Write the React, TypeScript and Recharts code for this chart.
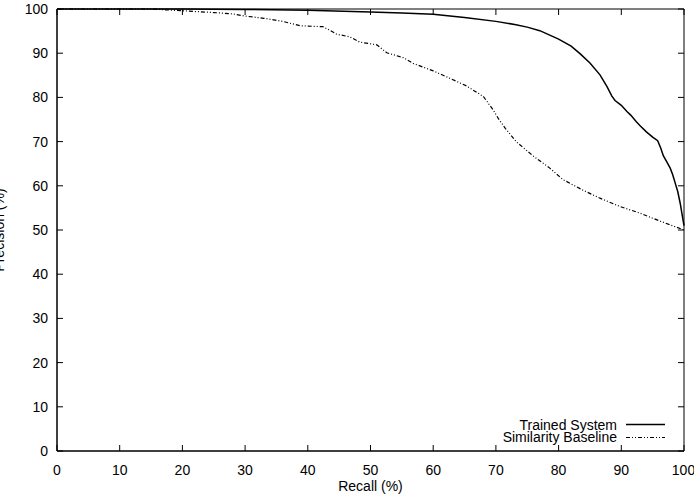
import React from 'react';
import { LineChart, Line, XAxis, YAxis, ReferenceArea, ReferenceLine } from 'recharts';

// Trained System curve (recall %, precision %)
const trainedRecall = [0, 10, 20, 30, 40, 50, 55, 60, 65, 70, 73, 75, 77, 80, 82, 83.5, 85, 86.6, 87.7, 88.5, 89, 90, 90.9, 91.5, 92.4, 93, 94, 95, 95.8, 96.3, 96.7, 97.3, 97.8, 98.2, 98.6, 99, 99.4, 99.7, 100];
const trainedPrecision = [100, 100, 100, 99.9, 99.7, 99.3, 99.1, 98.8, 98.1, 97.2, 96.5, 95.9, 95.1, 93.2, 91.6, 89.8, 87.8, 85.1, 82.5, 80.3, 79.3, 78.2, 76.8, 76, 74.5, 73.6, 72.2, 71, 70.2, 68.5, 66.8, 65.3, 64, 62.5, 60.6, 58.7, 56, 53.5, 51];

// Similarity Baseline curve
const baselineRecall = [0, 10, 15, 20, 25, 28, 30, 33, 36, 38.8, 42.4, 43.5, 44.6, 46.7, 48.3, 51, 52.6, 55.2, 56.8, 60, 62.7, 65.3, 68, 69.5, 70.4, 71.5, 73.3, 75.9, 78.6, 80.7, 83.9, 86.6, 89.8, 93, 96.2, 100];
const baselinePrecision = [100, 100, 100, 99.6, 99.2, 98.9, 98.4, 97.9, 97.2, 96.2, 96, 95.2, 94.3, 93.7, 92.5, 91.9, 90.1, 89, 87.7, 86, 84.3, 82.6, 80.2, 77.3, 75.2, 73, 69.9, 66.8, 64, 61.4, 59, 57.2, 55.3, 53.8, 52, 50];

const xTicks = [0, 10, 20, 30, 40, 50, 60, 70, 80, 90, 100];
const yTicks = [0, 10, 20, 30, 40, 50, 60, 70, 80, 90, 100];

const trained = trainedRecall.map((r, i) => ({ recall: r, precision: trainedPrecision[i] }));
const baseline = baselineRecall.map((r, i) => ({ recall: r, precision: baselinePrecision[i] }));

const fontFamily = '"Liberation Sans", Arial, sans-serif';
const dash = '4 2 1 2 1 2';
// inward tick length in data units (~6px each way)
const TX = 0.96;
const TY = 1.36;

const css = `
.recharts-cartesian-axis-tick-value { fill: #000; font-family: ${fontFamily}; font-size: 14px; }
`;

export default function App() {
  return (
    <div style={{ position: 'absolute', left: 0, top: 0, width: 694, height: 494, background: '#fff', fontFamily, fontSize: 14 }}>
      <style>{css}</style>
      <LineChart width={694} height={494} margin={{ top: 9, right: 10, bottom: 0, left: 0 }}>
        <XAxis dataKey="recall" type="number" domain={[0, 100]} ticks={xTicks} height={43} stroke="#000" tickLine={false} tickMargin={8} />
        <YAxis type="number" domain={[0, 100]} ticks={yTicks} width={57} stroke="#000" tickLine={false} tickMargin={3} />
        <ReferenceArea x1={0} x2={100} y1={0} y2={100} fill="none" stroke="#000" strokeWidth={1} ifOverflow="visible" />
        {xTicks.map((t) => (
          <ReferenceLine key={'b' + t} segment={[{ x: t, y: 0 }, { x: t, y: TY }]} stroke="#000" ifOverflow="visible" />
        ))}
        {xTicks.map((t) => (
          <ReferenceLine key={'t' + t} segment={[{ x: t, y: 100 }, { x: t, y: 100 - TY }]} stroke="#000" ifOverflow="visible" />
        ))}
        {yTicks.map((t) => (
          <ReferenceLine key={'l' + t} segment={[{ x: 0, y: t }, { x: TX, y: t }]} stroke="#000" ifOverflow="visible" />
        ))}
        {yTicks.map((t) => (
          <ReferenceLine key={'r' + t} segment={[{ x: 100, y: t }, { x: 100 - TX, y: t }]} stroke="#000" ifOverflow="visible" />
        ))}
        <Line data={trained} dataKey="precision" stroke="#000" strokeWidth={1.5} dot={false} isAnimationActive={false} />
        <Line data={baseline} dataKey="precision" stroke="#000" strokeWidth={1.2} strokeDasharray={dash} dot={false} isAnimationActive={false} />
      </LineChart>
      <svg width={694} height={494} style={{ position: 'absolute', left: 0, top: 0, pointerEvents: 'none' }}>
        <g style={{ fontFamily, fontSize: 14 }} fill="#000">
          <text x={370.5} y={491} textAnchor="middle">Recall (%)</text>
          <text x={4} y={230} transform="rotate(-90 4 230)" textAnchor="middle">Precision (%)</text>
          <text x={617} y={429.5} textAnchor="end">Trained System</text>
          <text x={617} y={442} textAnchor="end">Similarity Baseline</text>
        </g>
        <line x1={626} x2={665} y1={424.5} y2={424.5} stroke="#000" strokeWidth={1.5} />
        <line x1={626} x2={665} y1={437.5} y2={437.5} stroke="#000" strokeWidth={1.2} strokeDasharray={dash} />
      </svg>
    </div>
  );
}
